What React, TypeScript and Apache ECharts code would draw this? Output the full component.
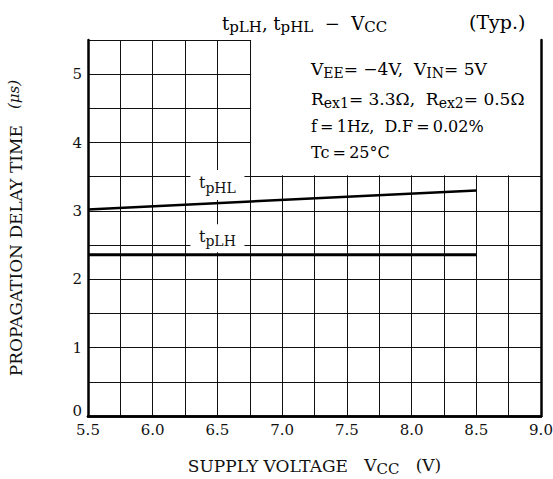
import React, { useEffect, useRef } from "react";
import * as echarts from "echarts";

const FONT = "DejaVu Serif";
const xMin = 5.5;
const xMax = 9.0;
const yMin = 0;
const yMax = 5.5;

const tpHL: [number, number][] = [
  [5.5, 3.02],
  [8.5, 3.3],
];
const tpLH: [number, number][] = [
  [5.5, 2.36],
  [8.5, 2.36],
];
const legendBox = { x0: 6.76, y0: 3.52, x1: 9.0, y1: 5.5 };
const labelHL = { x: 6.5, y: 3.38 };
const labelLH = { x: 6.5, y: 2.6 };

const mkRich = (n: number, s: number) => ({
  n: { fontFamily: FONT, fontSize: n, lineHeight: 20, verticalAlign: "top", color: "#111" },
  s: { fontFamily: FONT, fontSize: s, lineHeight: 14, verticalAlign: "bottom", color: "#111" },
  i: { fontFamily: FONT, fontSize: n - 2, fontStyle: "italic", lineHeight: 20, verticalAlign: "top", color: "#111" },
});
const richName = mkRich(17, 15);
const richBox = mkRich(17, 14);
const richLbl = mkRich(16, 14);

export default function App() {
  const ref = useRef<HTMLDivElement>(null);
  useEffect(() => {
    const chart = echarts.init(ref.current!, null, { renderer: "svg" });
    const txt = (text: string, x: number, y: number, rich: any) => ({
      type: "text",
      x,
      y,
      z: 100,
      style: { text, rich, align: "left", verticalAlign: "middle", fontFamily: FONT },
    });
    chart.setOption({
      animation: false,
      backgroundColor: "#fff",
      grid: { left: 88, right: 12, top: 40, bottom: 63, outerBoundsMode: "none" },
      xAxis: [
        {
          type: "value",
          min: xMin,
          max: xMax,
          interval: 0.25,
          axisLine: { show: true, onZero: false, lineStyle: { color: "#000", width: 2.5 } },
          axisTick: { show: false },
          splitLine: { show: true, lineStyle: { color: "#111", width: 1 } },
          axisLabel: {
            margin: 6,
            color: "#111",
            fontFamily: FONT,
            fontSize: 15,
            formatter: (v: number) => (Math.abs(v * 2 - Math.round(v * 2)) < 1e-6 ? v.toFixed(1) : ""),
          },
          name: "SUPPLY VOLTAGE   {n|V}{s|CC}   {n|(V)}",
          nameLocation: "middle",
          nameGap: 40,
          nameTextStyle: { fontFamily: FONT, fontSize: 17, color: "#111", rich: richName },
        },
        {
          type: "value",
          position: "top",
          min: xMin,
          max: xMax,
          z: 10,
          axisLine: { show: true, lineStyle: { color: "#000", width: 2.5 } },
          axisTick: { show: false },
          axisLabel: { show: false },
          splitLine: { show: false },
        },
      ],
      yAxis: [
        {
          type: "value",
          min: yMin,
          max: yMax,
          interval: 0.5,
          axisLine: { show: true, onZero: false, lineStyle: { color: "#000", width: 2.5 } },
          axisTick: { show: false },
          splitLine: { show: true, lineStyle: { color: "#111", width: 1 } },
          axisLabel: {
            margin: 6,
            color: "#111",
            fontFamily: FONT,
            fontSize: 15,
            formatter: (v: number) => {
              if (Math.abs(v - Math.round(v)) > 1e-6) return "";
              return v === 0 ? "{z|0}" : String(Math.round(v));
            },
            rich: { z: { fontFamily: FONT, fontSize: 15, color: "#111", padding: [0, 0, 10, 0] } },
          },
          name: "PROPAGATION DELAY TIME   {i|(μs)}",
          nameLocation: "middle",
          nameRotate: 90,
          nameGap: 62,
          nameTextStyle: { fontFamily: FONT, fontSize: 17, color: "#111", rich: richName },
        },
        {
          type: "value",
          position: "right",
          min: yMin,
          max: yMax,
          z: 10,
          axisLine: { show: true, lineStyle: { color: "#000", width: 2.5 } },
          axisTick: { show: false },
          axisLabel: { show: false },
          splitLine: { show: false },
        },
      ],
      series: [
        {
          type: "line",
          data: [],
          z: 1,
          showSymbol: false,
          markArea: {
            silent: true,
            z: 1,
            itemStyle: { color: "#fff", borderWidth: 0 },
            data: [[{ coord: [legendBox.x0, legendBox.y0] }, { coord: [legendBox.x1, legendBox.y1] }]],
          },
          markPoint: {
            silent: true,
            z: 1,
            symbol: "rect",
            itemStyle: { color: "#fff" },
            label: { show: true, position: "inside", rich: richLbl },
            data: [
              { coord: [labelHL.x, labelHL.y], symbolSize: [54, 30], label: { formatter: "{n|t}{s|pHL}" } },
              { coord: [labelLH.x, labelLH.y], symbolSize: [54, 28], label: { formatter: "{n|t}{s|pLH}" } },
            ],
          },
        },
        {
          name: "tpHL",
          type: "line",
          data: tpHL,
          z: 3,
          showSymbol: false,
          lineStyle: { color: "#000", width: 2.5 },
        },
        {
          name: "tpLH",
          type: "line",
          data: tpLH,
          z: 3,
          showSymbol: false,
          lineStyle: { color: "#000", width: 3 },
        },
      ],
      graphic: [
        txt("{n|t}{s|pLH}{n|, t}{s|pHL}{n|  −  V}{s|CC}", 222, 24, mkRich(18, 15)),
        txt("{n|(Typ.)}", 469, 22, mkRich(19, 15)),
        txt("{n|V}{s|EE}{n|= −4V,  V}{s|IN}{n|= 5V}", 311, 70, richBox),
        txt("{n|R}{s|ex1}{n|= 3.3Ω,  R}{s|ex2}{n|= 0.5Ω}", 311, 100, richBox),
        txt("{n|f\u2009=\u20091Hz,  D.F\u2009=\u20090.02%}", 311, 128, mkRich(16, 14)),
        txt("{n|Tc\u2009=\u200925°C}", 311, 154, mkRich(16, 14)),
      ],
    });
    return () => chart.dispose();
  }, []);
  return (
    <div
      ref={ref}
      style={{ position: "absolute", left: 0, top: 0, width: 553, height: 479 }}
    />
  );
}
